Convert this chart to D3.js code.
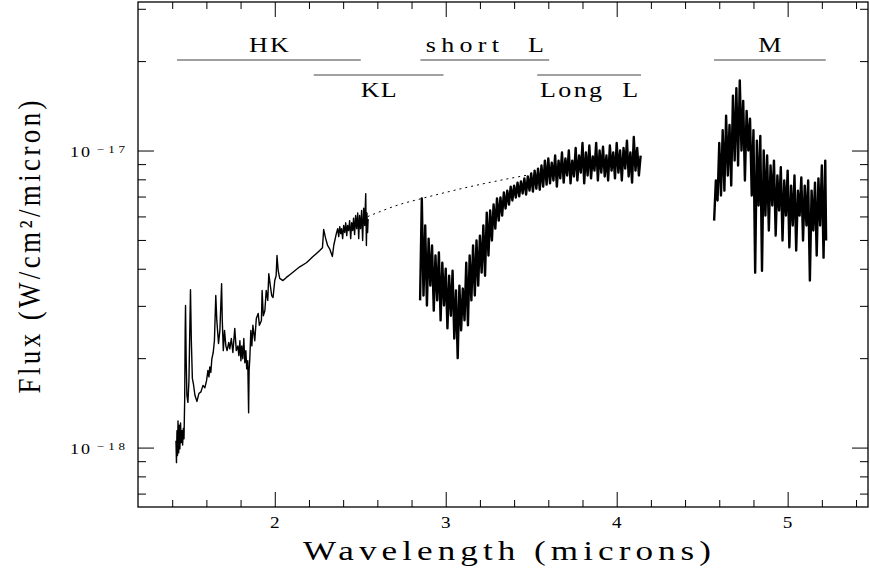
<!DOCTYPE html>
<meta charset="utf-8">
<style>
body { margin: 0; background: #fff; }
text { font-family: "Liberation Serif", serif; fill: #000; white-space: pre; }
.tick line { stroke: #000; stroke-width: 1; }
.spec { fill: none; stroke: #000; stroke-width: 1.4; stroke-linejoin: round; }
.spec.noisy { stroke-width: 2.4; }
.cont { fill: none; stroke: #000; stroke-width: 1; stroke-dasharray: 2,4; }
.band { stroke: #808080; stroke-width: 1.6; }
</style>
<body>
<script src="https://d3js.org/d3.v7.min.js"></script>
<script>

// ---- data (flux in units of 1e-18 W/cm2/micron) ----

// HK + KL segment
var hkWave = [1.422,1.425,1.428,1.431,1.434,1.438,1.441,1.445,1.449,1.453,
  1.457,1.461,1.465,1.469,1.473,1.476,1.478,1.482,1.486,1.492,
  1.498,1.507,1.512,1.518,1.524,1.533,1.545,1.556,1.568,1.580,
  1.591,1.601,1.609,1.615,1.620,1.626,1.632,1.640,1.647,1.655,
  1.661,1.671,1.679,1.689,1.693,1.699,1.706,1.714,1.721,1.731,
  1.737,1.746,1.755,1.766,1.775,1.784,1.790,1.796,1.802,1.807,
  1.813,1.819,1.825,1.831,1.836,1.842,1.847,1.850,1.854,1.860,
  1.866,1.872,1.883,1.892,1.903,1.910,1.922,1.926,1.933,1.942,
  1.950,1.959,1.965,1.974,1.982,1.990,2.000,2.008,2.013,2.020,
  2.029,2.048,2.068,2.088,2.117,2.146,2.185,2.204,2.222,2.244,
  2.263,2.279,2.286,2.298,2.309,2.321,2.337,2.345,2.360,2.368,
  2.374,2.380,2.386,2.391,2.397,2.403,2.409,2.415,2.421,2.426,
  2.432,2.438,2.444,2.450,2.456,2.461,2.467,2.473,2.479,2.485,
  2.491,2.496,2.502,2.508,2.514,2.520,2.526,2.532,2.536,2.539,
  2.543,2.546];
var hkFlux = [1.055,0.89,1.14,0.94,1.23,0.96,1.19,0.99,1.21,1.04,
  1.14,1.02,1.16,1.07,1.44,2.48,3.01,1.96,1.50,1.42,
  1.68,3.40,2.29,1.71,1.64,1.50,1.43,1.52,1.54,1.62,
  1.59,1.68,1.82,1.73,1.87,1.79,1.99,2.09,2.29,3.25,
  2.68,2.24,2.48,3.56,2.68,2.12,2.48,2.20,2.12,2.26,
  2.15,2.33,2.09,2.52,2.12,2.20,2.04,2.29,1.96,2.20,
  1.99,2.33,1.93,2.12,1.84,1.96,1.31,1.82,1.99,2.48,
  2.20,2.58,2.29,2.72,2.83,2.58,2.68,3.38,2.78,2.89,
  3.38,3.13,3.85,3.51,3.25,3.20,3.65,3.79,4.43,3.94,
  3.71,3.65,3.74,3.82,3.94,4.06,4.19,4.29,4.39,4.50,
  4.61,4.71,5.42,5.05,4.79,4.67,4.40,4.79,5.25,5.46,
  5.13,5.54,5.25,5.46,5.05,5.59,5.30,5.71,5.17,5.59,
  5.38,5.81,5.05,5.71,5.38,5.92,5.21,6.04,5.46,6.16,
  5.05,6.04,5.46,6.28,4.98,6.40,5.59,7.16,4.79,6.16,
  5.30,5.88];

// short L + long L segment
var lWave = [2.85,2.86,2.87,2.88,2.89,2.90,2.91,2.92,2.93,2.94,
  2.95,2.96,2.97,2.98,2.99,3.00,3.01,3.02,3.03,3.04,
  3.05,3.06,3.07,3.08,3.09,3.10,3.11,3.12,3.13,3.14,
  3.15,3.16,3.17,3.18,3.19,3.20,3.21,3.22,3.23,3.24,
  3.25,3.26,3.27,3.28,3.29,3.30,3.31,3.32,3.33,3.34,
  3.35,3.36,3.37,3.38,3.39,3.40,3.41,3.42,3.43,3.44,
  3.45,3.46,3.47,3.48,3.49,3.50,3.51,3.52,3.53,3.54,
  3.55,3.56,3.57,3.58,3.59,3.60,3.61,3.62,3.63,3.64,
  3.65,3.66,3.67,3.68,3.69,3.70,3.71,3.72,3.73,3.74,
  3.75,3.76,3.77,3.78,3.79,3.80,3.81,3.82,3.83,3.84,
  3.85,3.86,3.87,3.88,3.89,3.90,3.91,3.92,3.93,3.94,
  3.95,3.96,3.97,3.98,3.99,4.00,4.01,4.02,4.03,4.04,
  4.05,4.06,4.07,4.08,4.09,4.10,4.11,4.12,4.13,4.14];
var lFlux = [3.13,6.90,3.25,5.59,3.01,5.05,3.51,4.79,2.89,4.43,
  3.13,4.54,2.68,4.19,3.01,4.00,2.52,3.79,2.78,3.94,
  2.33,3.38,2.00,3.51,2.48,3.43,2.68,4.19,2.58,4.43,
  3.13,4.79,3.25,4.98,3.51,5.17,3.88,5.59,3.79,6.18,
  4.43,6.28,4.98,6.58,5.46,6.90,5.81,6.95,6.04,7.22,
  6.38,7.33,6.58,7.56,6.79,7.62,6.95,7.80,7.01,7.87,
  7.17,8.06,7.11,8.18,7.33,8.37,7.27,8.56,7.44,8.69,
  7.38,8.90,7.56,9.25,7.68,9.40,7.75,9.10,7.93,9.62,
  7.56,9.25,8.06,9.85,7.80,9.40,8.24,10.0,7.75,9.25,
  8.18,10.2,7.93,9.62,8.43,10.6,7.75,9.85,8.24,10.4,
  8.06,9.55,8.56,10.6,7.93,10.0,8.43,10.3,8.18,9.62,
  7.93,10.4,8.56,9.85,8.06,10.6,8.43,10.0,7.93,10.2,
  8.69,10.8,8.18,9.85,7.80,11.1,8.56,10.2,8.24,9.62];

// M segment
var mWave = [4.57,4.58,4.59,4.60,4.61,4.62,4.63,4.64,4.65,4.66,
  4.67,4.68,4.69,4.70,4.71,4.72,4.73,4.74,4.75,4.76,
  4.77,4.78,4.79,4.80,4.81,4.82,4.83,4.84,4.85,4.86,
  4.87,4.88,4.89,4.90,4.91,4.92,4.93,4.94,4.95,4.96,
  4.97,4.98,4.99,5.00,5.01,5.02,5.03,5.04,5.05,5.06,
  5.07,5.08,5.09,5.10,5.11,5.12,5.13,5.14,5.15,5.16,
  5.17,5.18,5.19,5.20,5.21,5.22,5.225];
var mFlux = [5.81,7.93,6.79,10.6,7.06,11.7,7.33,13.1,8.24,12.2,
  7.62,15.3,9.25,16.2,8.90,17.2,10.0,14.7,7.93,13.6,
  10.0,12.8,7.06,11.7,3.88,10.8,6.53,11.2,3.94,10.0,
  6.04,9.62,5.38,8.90,6.53,9.25,5.17,8.24,6.28,8.79,
  4.98,7.93,6.04,8.56,4.72,7.62,5.59,8.24,4.61,7.33,
  6.04,8.12,4.98,7.62,5.59,7.93,3.65,7.33,5.38,7.80,
  4.43,8.06,5.59,8.90,4.36,9.25,4.98];

// dotted continuum across the 3 micron band
var contWave = [2.543,2.730,2.858,3.022,3.197,3.372,3.530];
var contFlux = [5.99,6.58,6.89,7.28,7.68,8.05,8.37];

// filter bands
var bandNames = ["HK","KL","short  L","Long  L","M"];
var bandStart = [1.428,2.228,2.852,3.535,4.569];
var bandEnd   = [2.503,2.987,3.605,4.142,5.223];
var bandRow   = [0,1,0,1,0];

// ticks
var xMajor = [2,3,4,5];
var xMinor = [1.4,1.6,1.8,2.2,2.4,2.6,2.8,3.2,3.4,3.6,3.8,4.2,4.4,4.6,4.8,5.2,5.4];
var yMajor = [1,10];
var yMajorExp = ["\u221218","\u221217"];
var yMinor = [0.7,0.8,0.9,2,3,4,5,6,7,8,9,20,30];

// ---- layout ----
var margin = {top: 2, right: 2, bottom: 64, left: 138},
    width = 870 - margin.left - margin.right,
    height = 571 - margin.top - margin.bottom;

var svg = d3.select("body").append("svg")
    .attr("width", 870)
    .attr("height", 571)
  .append("g")
    .attr("transform", "translate(" + margin.left + "," + margin.top + ")");

var x = d3.scaleLinear().domain([1.2, 5.47]).range([0, width]);
var y = d3.scaleLog().domain([Math.pow(10, -0.2), Math.pow(10, 1.5)]).range([height, 0]);

function noDomain(g) { g.select(".domain").remove(); }

// wide, thin lettering like the plot package's font: a light horizontal
// stretch plus letter spacing to reach the measured width
function label(str, px, py, size, w, anchor, stretch, rot) {
  var tr = "translate(" + px + "," + py + ")" + (rot ? " rotate(-90) scale(1,1.15)" : " scale(" + stretch + ",1)");
  return svg.append("text")
      .attr("transform", tr)
      .attr("text-anchor", anchor)
      .attr("textLength", rot ? w : w / stretch)
      .attr("lengthAdjust", "spacing")
      .style("font-size", size + "px")
      .text(str);
}

// bottom axis
svg.append("g")
    .attr("transform", "translate(0," + height + ")")
    .call(d3.axisBottom(x).tickValues(xMajor).tickSize(-15).tickFormat(""))
    .call(noDomain);
svg.append("g")
    .attr("transform", "translate(0," + height + ")")
    .call(d3.axisBottom(x).tickValues(xMinor).tickSize(-7).tickFormat(""))
    .call(noDomain);
xMajor.forEach(function(v) {
  label(String(v), x(v), height + 21, 16, 10, "middle", 1.2);
});

// top axis
svg.append("g")
    .call(d3.axisTop(x).tickValues(xMajor).tickSize(-15).tickFormat(""))
    .call(noDomain);
svg.append("g")
    .call(d3.axisTop(x).tickValues(xMinor).tickSize(-7).tickFormat(""))
    .call(noDomain);

// left axis
svg.append("g")
    .call(d3.axisLeft(y).tickValues(yMajor).tickSize(-16).tickFormat(""))
    .call(noDomain);
svg.append("g")
    .call(d3.axisLeft(y).tickValues(yMinor).tickSize(-8).tickFormat(""))
    .call(noDomain);

// right axis
svg.append("g")
    .attr("transform", "translate(" + width + ",0)")
    .call(d3.axisRight(y).tickValues(yMajor).tickSize(-16).tickFormat(""))
    .call(noDomain);
svg.append("g")
    .attr("transform", "translate(" + width + ",0)")
    .call(d3.axisRight(y).tickValues(yMinor).tickSize(-8).tickFormat(""))
    .call(noDomain);

// y tick labels 10^-18, 10^-17
yMajor.forEach(function(v, i) {
  label("10", -68, y(v) + 6, 15, 20, "start", 1.2);
  label(yMajorExp[i], -41, y(v) + 2, 10, 28, "start", 1.3);
});

// frame
svg.append("rect")
    .attr("width", width)
    .attr("height", height)
    .attr("fill", "none")
    .attr("stroke", "#000")
    .attr("stroke-width", 1.3);

// spectrum
var line = d3.line()
    .x(function(d) { return x(d[0]); })
    .y(function(d) { return y(d[1]); });

[[hkWave, hkFlux, "spec"], [lWave, lFlux, "spec noisy"], [mWave, mFlux, "spec noisy"]].forEach(function(s) {
  svg.append("path")
      .datum(d3.zip(s[0], s[1]))
      .attr("class", s[2])
      .attr("d", line);
});

svg.append("path")
    .datum(d3.zip(contWave, contFlux))
    .attr("class", "cont")
    .attr("d", line.curve(d3.curveMonotoneX));

// band markers
var rowLine = [58, 73], rowText = [50, 95];
var labelW = {"HK": 40, "KL": 36, "short  L": 118, "Long  L": 98, "M": 21};
bandNames.forEach(function(n, i) {
  svg.append("line")
      .attr("class", "band")
      .attr("x1", x(bandStart[i]))
      .attr("x2", x(bandEnd[i]))
      .attr("y1", rowLine[bandRow[i]])
      .attr("y2", rowLine[bandRow[i]]);
  label(n, (x(bandStart[i]) + x(bandEnd[i])) / 2, rowText[bandRow[i]], 20, labelW[n], "middle", 1.3);
});

// axis titles
label("Wavelength (microns)", width / 2 + 4, height + 53, 27, 408, "middle", 1.3);
label("Flux (W/cm\u00b2/micron)", 40 - margin.left, 247 - margin.top, 27, 293, "middle", 1, true);

</script>
</body>
